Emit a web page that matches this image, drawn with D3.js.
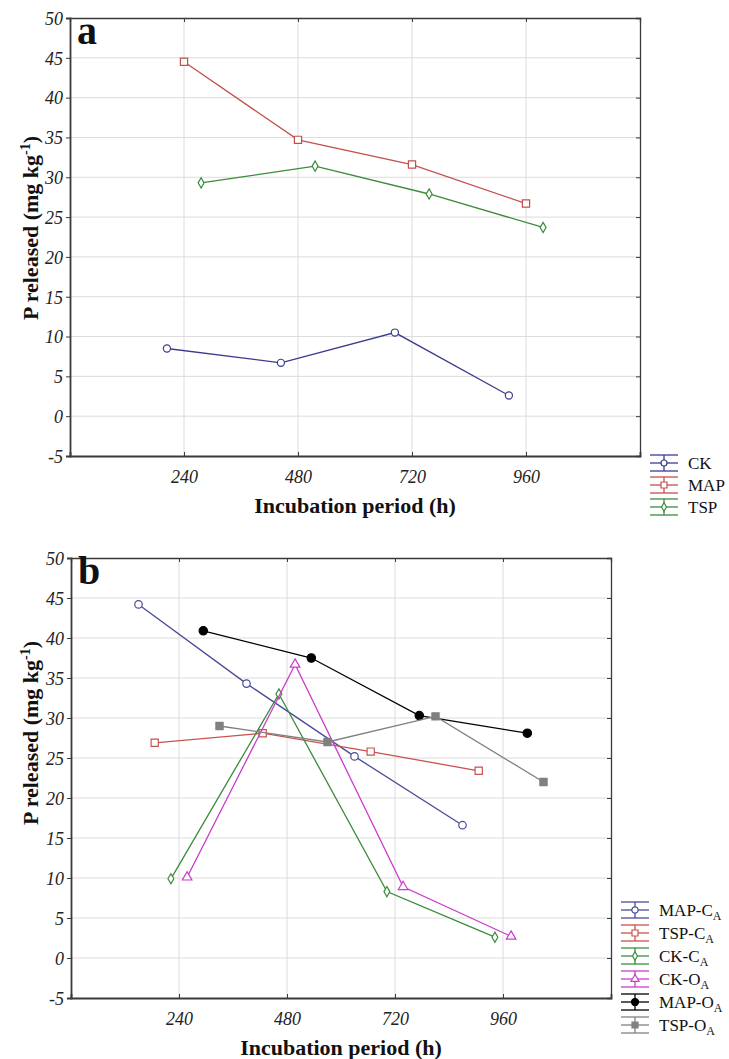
<!DOCTYPE html>
<html lang="en">
<head>
    <meta charset="UTF-8">
    <title>P released vs incubation period</title>
    <script src="https://d3js.org/d3.v7.min.js"></script>
    <style>
        body { margin: 0; background: #fff; }
        svg { display: block; }
        svg text { font-family: "Liberation Serif", "Times New Roman", serif; }
        .axis-title { font-size: 22px; font-weight: bold; fill: #111; }
        .legend-label { font-size: 17px; fill: #111; }
    </style>
</head>
<body>
<svg id="chart" width="729" height="1059"></svg>
<script>
    // incubation times (h)
    const hours = [240, 480, 720, 960];
    const yTicks = [-5, 0, 5, 10, 15, 20, 25, 30, 35, 40, 45, 50];

    // panel a
    const namesA = ["CK", "MAP", "TSP"];
    const ckA  = [8.5, 6.7, 10.5, 2.6];
    const mapA = [44.5, 34.7, 31.6, 26.7];
    const tspA = [29.3, 31.4, 27.9, 23.7];

    // panel b (labels get a subscript "A")
    const namesB = ["MAP-C", "TSP-C", "CK-C", "CK-O", "MAP-O", "TSP-O"];
    const mapCB = [44.2, 34.3, 25.2, 16.6];
    const tspCB = [26.9, 28.1, 25.8, 23.4];
    const ckCB  = [9.9, 33.0, 8.3, 2.6];
    const ckOB  = [10.1, 36.7, 8.9, 2.7];
    const mapOB = [40.9, 37.5, 30.3, 28.1];
    const tspOB = [29.0, 27.0, 30.2, 22.0];

    const svg = d3.select("#chart");

    const styleA = [
        { color: "#3c3c8e", symbol: d3.symbolCircle, size: 40, fill: false },
        { color: "#c4504c", symbol: d3.symbolSquare, size: 52, fill: false },
        { color: "#3b8b3b", symbol: d3.symbolDiamond, size: 30, fill: false }
    ];
    const styleB = [
        { color: "#4a4a98", symbol: d3.symbolCircle, size: 44, fill: false },
        { color: "#c8524e", symbol: d3.symbolSquare, size: 52, fill: false },
        { color: "#3b8b3b", symbol: d3.symbolDiamond, size: 30, fill: false },
        { color: "#cc3ccc", symbol: d3.symbolTriangle, size: 40, fill: false },
        { color: "#000000", symbol: d3.symbolCircle, size: 55, fill: true },
        { color: "#808080", symbol: d3.symbolSquare, size: 52, fill: true }
    ];

    function styleTick(sel) {
        sel.style("font-family", "'Liberation Serif', serif")
            .style("font-style", "italic")
            .style("font-size", "18px")
            .attr("fill", "#222");
    }

    function drawPanel(cfg) {
        const g = svg.append("g");
        const x = d3.scaleLinear().domain([0, 1200]).range([cfg.left, cfg.right]);
        const y = d3.scaleLinear().domain([-5, 50]).range([cfg.bottom, cfg.top]);

        // grid
        g.append("g").selectAll("line").data(yTicks.slice(1, -1)).join("line")
            .attr("x1", cfg.left).attr("x2", cfg.right)
            .attr("y1", d => y(d)).attr("y2", d => y(d))
            .attr("stroke", "#dcdcdc").attr("stroke-width", 1);
        g.append("g").selectAll("line").data(hours).join("line")
            .attr("y1", cfg.top).attr("y2", cfg.bottom)
            .attr("x1", d => x(d)).attr("x2", d => x(d))
            .attr("stroke", "#dcdcdc").attr("stroke-width", 1);

        // axes: left outward, others inward
        const fmt = d => String(d);
        const left = g.append("g").attr("transform", `translate(${cfg.left},0)`)
            .call(d3.axisLeft(y).tickValues(yTicks).tickSize(4).tickFormat(fmt));
        const bottom = g.append("g").attr("transform", `translate(0,${cfg.bottom})`)
            .call(d3.axisBottom(x).tickValues(hours).tickSize(-4).tickFormat(fmt));
        const top = g.append("g").attr("transform", `translate(0,${cfg.top})`)
            .call(d3.axisTop(x).tickValues(hours).tickSize(-4).tickFormat(""));
        const right = g.append("g").attr("transform", `translate(${cfg.right},0)`)
            .call(d3.axisRight(y).tickValues(yTicks).tickSize(-4).tickFormat(""));
        [left, bottom, top, right].forEach(a => a.attr("font-family", null).attr("font-size", null));
        g.selectAll(".domain").attr("stroke", "#3a3a3a").attr("stroke-width", 1.3);
        left.select(".domain").attr("stroke-width", 1.8);
        bottom.select(".domain").attr("stroke-width", 1.8);
        g.selectAll(".tick line").attr("stroke", "#3a3a3a");
        left.selectAll(".tick text").attr("x", -7).attr("dy", "0.35em").call(styleTick);
        bottom.selectAll(".tick text").attr("y", 14).attr("dy", "0.71em").call(styleTick);

        // series, dodged sideways by 36 h each
        const n = cfg.series.length;
        cfg.series.forEach((vals, i) => {
            const st = cfg.styles[i];
            const off = (i - (n - 1) / 2) * 36;
            const pts = vals.map((v, k) => [x(hours[k] + off), y(v)]);
            g.append("path")
                .attr("d", d3.line()(pts))
                .attr("fill", "none")
                .attr("stroke", st.color)
                .attr("stroke-width", 1.3);
            g.append("g").selectAll("path").data(pts).join("path")
                .attr("transform", d => `translate(${d[0]},${d[1]})`)
                .attr("d", d3.symbol(st.symbol, st.size))
                .attr("fill", st.fill ? st.color : "#fff")
                .attr("stroke", st.color)
                .attr("stroke-width", 1.2);
        });

        // panel letter
        g.append("text").attr("x", cfg.left + 7).attr("y", cfg.top + 26)
            .attr("font-size", 40).attr("font-weight", "bold").attr("fill", "#111")
            .text(cfg.letter);

        // axis titles
        g.append("text").attr("class", "axis-title")
            .attr("x", (cfg.left + cfg.right) / 2).attr("y", cfg.bottom + 57)
            .attr("text-anchor", "middle").text("Incubation period (h)");
        const yt = g.append("text").attr("class", "axis-title")
            .attr("transform", `translate(38,${cfg.ytitleY}) rotate(-90)`)
            .attr("text-anchor", "middle");
        yt.append("tspan").text("P released (mg kg");
        yt.append("tspan").attr("font-size", 14).attr("dy", -8).text("-1");
        yt.append("tspan").attr("dy", 8).text(")");

        // legend
        const lg = g.append("g");
        cfg.names.forEach((name, i) => {
            const st = cfg.styles[i];
            const cy = cfg.legendY + i * cfg.legendStep;
            const x0 = cfg.right + 10, x1 = x0 + 28, xm = (x0 + x1) / 2;
            [-8, 0, 8].forEach(dy => {
                lg.append("line").attr("x1", x0).attr("x2", x1)
                    .attr("y1", cy + dy).attr("y2", cy + dy)
                    .attr("stroke", st.color).attr("stroke-width", 1.3);
            });
            lg.append("line").attr("x1", xm).attr("x2", xm)
                .attr("y1", cy - 8).attr("y2", cy + 8)
                .attr("stroke", st.color).attr("stroke-width", 1.3);
            lg.append("path").attr("transform", `translate(${xm},${cy})`)
                .attr("d", d3.symbol(st.symbol, st.size * 0.7))
                .attr("fill", st.fill ? st.color : "#fff")
                .attr("stroke", st.color).attr("stroke-width", 1.2);
            const t = lg.append("text").attr("class", "legend-label")
                .attr("x", x1 + 10).attr("y", cy + 6).text(name);
            if (cfg.sub) {
                t.append("tspan").attr("font-size", 12).attr("dy", 4).text(cfg.sub);
            }
        });
    }

    drawPanel({
        left: 70, right: 640, top: 18, bottom: 456,
        letter: "a", ytitleY: 228,
        series: [ckA, mapA, tspA], styles: styleA, names: namesA,
        legendY: 463, legendStep: 22
    });

    drawPanel({
        left: 71, right: 611, top: 558, bottom: 998,
        letter: "b", ytitleY: 733,
        series: [mapCB, tspCB, ckCB, ckOB, mapOB, tspOB], styles: styleB, names: namesB, sub: "A",
        legendY: 910, legendStep: 23
    });
</script>
</body>
</html>
